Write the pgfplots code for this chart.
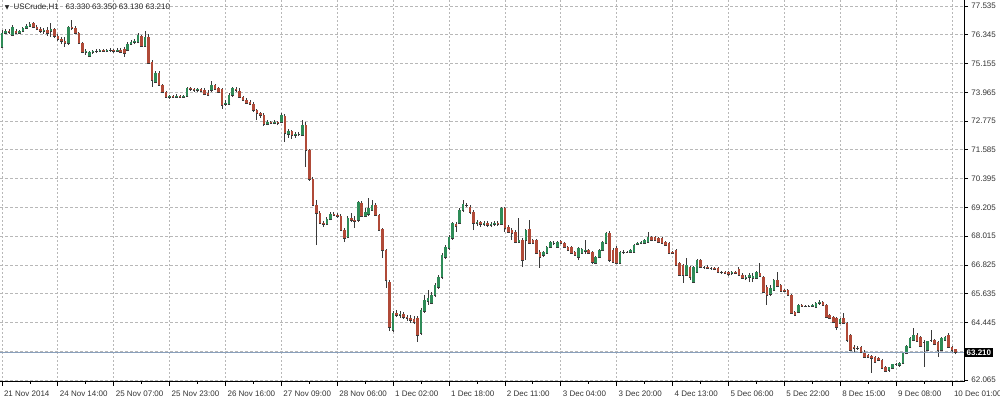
\documentclass[border=0pt]{standalone}
\usepackage{pgfplots}
\usepackage{pgfplotstable}
\pgfplotsset{compat=1.18}
\usepackage{fontspec}
\setmainfont{Liberation Sans}
\newfontfamily\dejavu{DejaVu Sans}
\definecolor{bull}{HTML}{2E8B57}
\definecolor{bear}{HTML}{B04A38}
\definecolor{wick}{HTML}{3A3A3A}
\definecolor{gridc}{HTML}{B8B8B8}
\definecolor{pline}{HTML}{8AA0BC}

\pgfplotstableread{
i o h l c
0 75.84 76.54 75.80 76.42
1 76.42 76.58 76.38 76.50
2 76.50 76.58 76.38 76.46
3 76.33 76.75 76.29 76.67
4 76.50 76.58 76.38 76.42
5 76.42 76.54 76.38 76.50
6 76.50 76.67 76.46 76.62
7 76.62 76.79 76.58 76.71
8 76.71 76.87 76.67 76.79
9 76.83 76.87 76.62 76.67
10 76.67 76.75 76.54 76.58
11 76.58 76.67 76.42 76.50
12 76.50 76.62 76.38 76.54
13 76.54 76.67 76.29 76.42
14 76.50 76.83 76.25 76.58
15 76.58 76.62 76.21 76.29
16 76.29 76.38 76.09 76.17
17 76.17 76.25 75.96 76.09
18 76.09 76.25 75.84 76.00
19 76.00 76.71 75.92 76.67
20 76.67 76.96 76.54 76.62
21 76.62 76.71 76.38 76.42
22 76.42 76.46 75.96 76.00
23 76.00 76.05 75.59 75.63
24 75.63 75.76 75.51 75.67
25 75.47 75.67 75.43 75.63
26 75.63 75.72 75.55 75.67
27 75.67 75.76 75.59 75.67
28 75.67 75.76 75.63 75.72
29 75.72 75.76 75.63 75.67
30 75.67 75.76 75.63 75.72
31 75.72 75.80 75.63 75.72
32 75.72 75.76 75.59 75.67
33 75.67 75.80 75.63 75.72
34 75.72 75.80 75.59 75.63
35 75.76 75.84 75.43 75.59
36 75.72 76.05 75.67 75.96
37 75.96 76.13 75.92 76.05
38 76.05 76.17 75.96 76.09
39 76.05 76.42 76.00 76.33
40 76.29 76.33 75.84 75.88
41 75.88 76.50 75.84 76.25
42 76.25 76.38 75.14 75.18
43 75.22 75.30 74.19 74.47
44 74.39 74.85 74.35 74.76
45 74.76 74.85 74.23 74.27
46 74.27 74.31 73.94 73.98
47 73.98 74.02 73.73 73.77
48 73.77 73.85 73.69 73.81
49 73.81 73.85 73.73 73.77
50 73.77 73.90 73.73 73.81
51 73.81 73.85 73.73 73.77
52 73.77 73.85 73.73 73.81
53 73.81 74.19 73.77 74.14
54 74.14 74.19 74.02 74.10
55 74.10 74.14 73.98 74.06
56 74.06 74.14 73.98 74.10
57 74.10 74.14 73.98 74.02
58 74.06 74.14 73.85 73.90
59 73.94 74.06 73.81 73.85
60 74.06 74.43 73.98 74.27
61 74.27 74.31 74.06 74.10
62 74.14 74.19 73.94 73.98
63 74.10 74.14 73.28 73.44
64 73.48 73.65 73.40 73.52
65 73.48 73.94 73.44 73.85
66 73.85 74.19 73.77 74.14
67 74.10 74.19 73.98 74.06
68 74.02 74.14 73.73 73.77
69 73.77 73.81 73.61 73.65
70 73.65 73.73 73.48 73.52
71 73.57 73.65 73.44 73.48
72 73.48 73.57 73.15 73.23
73 73.23 73.28 72.82 73.11
74 73.11 73.15 72.90 73.03
75 73.03 73.11 72.57 72.65
76 72.65 72.82 72.61 72.74
77 72.74 72.78 72.65 72.70
78 72.70 72.82 72.65 72.74
79 72.74 72.78 72.61 72.70
80 72.74 73.11 72.70 73.03
81 72.99 73.07 71.91 72.28
82 72.24 72.45 72.08 72.37
83 72.37 72.41 72.04 72.20
84 72.20 72.32 72.08 72.24
85 72.24 72.32 72.16 72.24
86 72.20 72.82 72.16 72.61
87 72.61 72.74 70.88 71.58
88 71.58 71.62 70.30 70.38
89 70.38 70.46 69.26 69.31
90 69.31 69.51 67.65 68.97
91 68.97 69.06 68.52 68.56
92 68.56 68.64 68.39 68.52
93 68.52 68.81 68.48 68.73
94 68.73 69.01 68.68 68.93
95 68.93 69.01 68.85 68.89
96 68.89 68.97 68.77 68.85
97 68.85 68.93 68.23 68.27
98 68.27 68.35 67.77 67.94
99 67.98 68.85 67.94 68.77
100 68.77 68.97 68.60 68.68
101 68.68 68.85 68.35 68.64
102 68.68 69.47 68.60 69.43
103 69.39 69.47 68.81 68.85
104 68.85 69.18 68.81 69.01
105 68.93 69.59 68.85 69.18
106 69.10 69.51 69.06 69.31
107 69.31 69.39 68.85 68.89
108 68.89 68.93 68.23 68.27
109 68.31 68.35 67.11 67.44
110 67.44 67.48 65.87 66.20
111 66.12 66.20 64.09 64.26
112 64.13 64.92 64.05 64.84
113 64.84 64.96 64.67 64.76
114 64.76 64.92 64.63 64.80
115 64.80 64.88 64.59 64.67
116 64.67 64.76 64.51 64.63
117 64.63 64.76 64.42 64.55
118 64.59 64.71 64.38 64.47
119 64.63 64.71 63.64 63.93
120 64.01 65.05 63.93 64.96
121 64.92 65.58 64.84 65.38
122 65.33 65.79 65.17 65.46
123 65.25 65.71 65.21 65.58
124 65.58 66.08 65.50 66.00
125 65.91 66.41 65.83 66.33
126 66.33 67.32 66.24 67.24
127 67.15 67.65 67.07 67.57
128 67.53 68.06 67.44 67.98
129 67.94 68.60 67.86 68.56
130 68.52 68.60 68.19 68.44
131 68.56 69.18 68.52 69.10
132 69.10 69.51 69.01 69.35
133 69.31 69.39 69.22 69.31
134 69.22 69.31 68.93 69.01
135 69.01 69.10 68.27 68.56
136 68.56 68.68 68.44 68.60
137 68.60 68.64 68.39 68.52
138 68.52 68.64 68.44 68.56
139 68.56 68.64 68.39 68.48
140 68.48 68.60 68.39 68.52
141 68.52 68.64 68.44 68.56
142 68.56 68.64 68.44 68.52
143 68.52 69.22 68.48 69.18
144 69.18 69.22 68.19 68.35
145 68.39 68.48 68.15 68.19
146 68.27 68.35 67.86 68.15
147 68.19 68.27 67.73 67.77
148 67.77 68.77 67.73 67.86
149 67.86 67.94 66.74 67.03
150 67.86 68.31 67.03 68.27
151 68.31 68.68 67.69 67.73
152 67.86 67.90 67.69 67.73
153 67.86 67.90 67.28 67.32
154 67.36 67.44 66.70 67.15
155 67.24 67.40 67.15 67.36
156 67.32 67.61 67.28 67.57
157 67.57 67.81 67.53 67.77
158 67.73 67.81 67.65 67.73
159 67.57 67.81 67.53 67.77
160 67.81 67.86 67.69 67.73
161 67.73 67.77 67.53 67.57
162 67.57 67.61 67.40 67.44
163 67.57 67.61 67.28 67.32
164 67.36 67.40 67.19 67.24
165 67.15 67.57 67.03 67.53
166 67.32 67.53 67.28 67.48
167 67.40 67.86 67.28 67.44
168 67.44 67.48 67.28 67.32
169 67.36 67.40 66.86 66.95
170 66.90 67.19 66.86 67.15
171 67.15 67.48 67.11 67.44
172 67.44 67.81 67.40 67.77
173 67.73 68.19 67.69 68.15
174 68.15 68.23 66.95 67.03
175 67.44 67.53 66.90 66.95
176 67.53 67.61 66.86 66.90
177 66.90 67.40 66.86 67.36
178 67.36 67.44 67.28 67.36
179 67.36 67.40 67.32 67.36
180 67.36 67.48 67.32 67.44
181 67.36 67.69 67.32 67.65
182 67.69 67.77 67.65 67.73
183 67.73 67.81 67.69 67.77
184 67.73 67.90 67.69 67.86
185 67.77 68.19 67.73 67.98
186 67.98 68.02 67.81 67.86
187 67.98 68.02 67.81 67.86
188 67.94 67.98 67.73 67.77
189 67.94 67.98 67.69 67.73
190 67.77 67.81 67.61 67.65
191 67.73 67.77 67.28 67.32
192 67.36 67.40 67.28 67.32
193 67.44 67.48 66.78 66.82
194 66.90 66.95 66.37 66.41
195 66.82 66.86 66.08 66.41
196 66.41 67.11 66.37 66.82
197 66.74 66.78 66.20 66.33
198 66.12 66.78 66.08 66.74
199 66.53 67.07 66.49 67.03
200 67.03 67.07 66.70 66.74
201 66.74 66.78 66.66 66.74
202 66.74 66.82 66.66 66.70
203 66.70 66.74 66.62 66.70
204 66.70 66.74 66.62 66.66
205 66.70 66.74 66.49 66.53
206 66.53 66.57 66.45 66.53
207 66.53 66.57 66.45 66.49
208 66.53 66.57 66.37 66.45
209 66.49 66.57 66.41 66.53
210 66.53 66.57 66.45 66.49
211 66.66 66.74 66.37 66.41
212 66.41 66.49 66.24 66.29
213 66.29 66.41 66.20 66.33
214 66.33 66.49 66.12 66.41
215 66.29 66.49 66.12 66.37
216 66.29 66.57 66.24 66.53
217 66.49 66.90 66.33 66.37
218 66.33 66.37 65.66 65.71
219 65.91 66.00 65.17 65.58
220 65.62 66.00 65.54 65.87
221 65.79 66.24 65.75 66.20
222 66.20 66.53 65.91 65.95
223 66.00 66.04 65.71 65.75
224 65.79 65.83 65.71 65.75
225 65.79 65.83 65.54 65.58
226 65.58 65.62 64.80 64.84
227 64.88 64.92 64.71 64.76
228 64.88 65.21 64.84 65.17
229 65.17 65.21 65.09 65.13
230 65.13 65.17 65.09 65.13
231 65.13 65.17 65.09 65.13
232 65.13 65.21 65.09 65.17
233 65.09 65.29 65.05 65.25
234 65.25 65.38 65.17 65.29
235 65.29 65.33 65.13 65.17
236 65.17 65.21 64.63 64.67
237 64.76 64.80 64.59 64.63
238 64.67 64.71 64.42 64.47
239 64.63 64.67 64.13 64.26
240 64.42 64.63 64.38 64.59
241 64.63 64.84 64.38 64.42
242 64.42 64.47 63.64 63.72
243 63.93 63.97 63.27 63.31
244 63.43 63.51 63.18 63.39
245 63.39 63.47 63.31 63.39
246 63.43 63.47 63.18 63.22
247 63.22 63.31 62.98 63.02
248 63.10 63.14 62.98 63.02
249 63.06 63.10 62.36 62.98
250 63.02 63.06 62.77 62.81
251 62.98 63.02 62.85 62.89
252 62.89 62.94 62.52 62.56
253 62.61 62.65 62.40 62.44
254 62.48 62.56 62.40 62.61
255 62.56 62.73 62.52 62.73
256 62.73 62.77 62.65 62.73
257 62.69 62.81 62.61 62.77
258 62.77 63.22 62.73 63.18
259 63.18 63.51 63.14 63.47
260 63.43 63.85 63.39 63.80
261 63.72 64.22 63.68 63.93
262 63.93 64.01 63.64 63.68
263 63.85 63.89 63.43 63.47
264 63.64 63.72 62.61 63.64
265 63.31 63.68 63.27 63.68
266 63.72 64.13 63.64 63.72
267 63.72 63.76 63.51 63.56
268 63.64 63.68 63.02 63.31
269 63.31 63.85 63.27 63.80
270 63.72 63.89 63.68 63.85
271 63.93 64.01 63.43 63.43
272 63.43 63.47 63.22 63.31
273 63.33 63.35 63.13 63.21
}\candles

\begin{document}
\begin{tikzpicture}
\begin{axis}[
  at={(0pt,300pt)}, anchor=north west,
  scale only axis, width=723pt, height=286.5pt,
  xmin=-0.573, xmax=275.44, ymin=61.985, ymax=77.783,
  axis x line*=bottom, axis y line*=right,
  axis line style={black, line width=0.75pt},
  xtick={0,16,...,272},
  xticklabels={21 Nov 2014,24 Nov 14:00,25 Nov 07:00,25 Nov 23:00,26 Nov 16:00,27 Nov 09:00,28 Nov 06:00,1 Dec 02:00,1 Dec 18:00,2 Dec 11:00,3 Dec 04:00,3 Dec 20:00,4 Dec 13:00,5 Dec 06:00,5 Dec 22:00,8 Dec 15:00,9 Dec 08:00,10 Dec 01:00},
  minor xtick={8,24,...,264},
  ytick={62.065,63.255,64.445,65.635,66.825,68.015,69.205,70.395,71.585,72.775,73.965,75.155,76.345,77.535},
  yticklabels={62.065,,64.445,65.635,66.825,68.015,69.205,70.395,71.585,72.775,73.965,75.155,76.345,77.535},
  xmajorgrids, ymajorgrids,
  x grid style={gridc, line width=0.6pt, dash pattern=on 1.5pt off 1.5pt},
  y grid style={gridc, line width=0.6pt, dash pattern=on 2.25pt off 1.5pt},
  tick align=outside,
  major tick length=3pt, minor tick length=1.5pt,
  tick style={black, line width=0.6pt},
  xticklabel style={anchor=north west, xshift=-2pt, yshift=-0.5pt, font=\fontsize{6}{7}\selectfont, text=black!80},
  yticklabel style={anchor=west, xshift=-1pt, font=\fontsize{6}{7}\selectfont, text=black!80},
  clip=false,
]
% wicks
\addplot[draw=none, mark=none, forget plot,
  error bars/.cd, y dir=plus, y explicit, error mark=none,
  error bar style={wick, line width=0.7pt}]
  table[x=i, y=l, y error plus expr=\thisrow{h}-\thisrow{l}] {\candles};
% bull bodies
\addplot[draw=none, only marks, mark=-, mark size=0.95pt, mark options={wick, line width=0.5pt}, forget plot,
  restrict expr to domain={\thisrow{c}-\thisrow{o}}{-0.001:100},
  error bars/.cd, y dir=plus, y explicit, error mark=none,
  error bar style={bull, line width=1.9pt}]
  table[x=i, y=o, y error plus expr=\thisrow{c}-\thisrow{o}] {\candles};
% bear bodies
\addplot[draw=none, only marks, mark=-, mark size=0.95pt, mark options={wick, line width=0.5pt}, forget plot,
  restrict expr to domain={\thisrow{c}-\thisrow{o}}{-100:-0.001},
  error bars/.cd, y dir=plus, y explicit, error mark=none,
  error bar style={bear, line width=1.9pt}]
  table[x=i, y=c, y error plus expr=\thisrow{o}-\thisrow{c}] {\candles};
% current price line
\addplot[pline, line width=0.6pt, forget plot] coordinates {(-0.573,63.21) (275.44,63.21)};
\node[fill=black, text=white, anchor=west, inner xsep=1.2pt, inner ysep=1.5pt,
  font=\bfseries\fontsize{6}{7}\selectfont] at (axis cs:275.44,63.21) [xshift=0.6pt] {63.210};
\node[anchor=west, inner sep=0pt, font=\fontsize{6}{7}\selectfont, text=black!85]
  at (rel axis cs:0,1) [xshift=3.5pt, yshift=-5.5pt]
  {{\dejavu\fontsize{4.5}{5}\selectfont ▼}\hspace{3pt}USCrude,H1\hspace{5pt}63.330 63.350 63.130 63.210};
\end{axis}
\pgfresetboundingbox
\path[use as bounding box] (0,0) rectangle (750pt,300pt);
\end{tikzpicture}
\end{document}
